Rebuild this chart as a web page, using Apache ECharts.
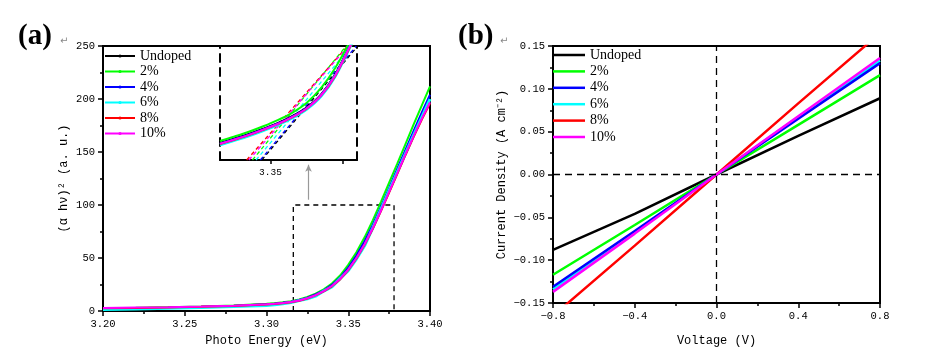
<!DOCTYPE html>
<html><head><meta charset="utf-8">
<script src="https://cdn.jsdelivr.net/npm/echarts@6/dist/echarts.min.js"></script>
<style>html,body{margin:0;padding:0;background:#fff}#c{width:932px;height:352px}</style>
</head><body><div id="c"></div>
<script>
// ---------- shared ----------
const NAMES = ['Undoped', '2%', '4%', '6%', '8%', '10%'];
const COLORS = ['#000000', '#00ff00', '#0000ff', '#00ffff', '#ff0000', '#ff00ff'];

// ---------- panel (a): Tauc plot ----------
const ENERGY = [3.20, 3.22, 3.24, 3.26, 3.28, 3.30, 3.305, 3.31, 3.315, 3.32, 3.325, 3.33, 3.335, 3.34, 3.345, 3.35, 3.355, 3.36, 3.365, 3.37, 3.375, 3.38, 3.385, 3.39, 3.395, 3.40];
const ABS_UNDOPED = [2.2, 2.7, 3.2, 3.9, 4.9, 6.4, 7.0, 7.8, 8.8, 10.2, 12.4, 15.4, 19.2, 24.2, 31.0, 40.2, 51.6, 65.0, 80.5, 97.5, 115.0, 133.0, 150.8, 168.5, 185.5, 202];
const ABS_2 = [2.5, 3.0, 3.6, 4.3, 5.3, 6.8, 7.4, 8.2, 9.3, 10.8, 13.2, 16.3, 20.5, 26.0, 33.5, 43.5, 55.5, 69.5, 85.5, 103.0, 121.0, 139.0, 157.5, 176.0, 194.0, 212];
const ABS_4 = [2.0, 2.5, 3.1, 3.8, 4.8, 6.3, 6.9, 7.7, 8.8, 10.3, 12.6, 15.6, 19.5, 24.6, 31.5, 40.8, 52.3, 65.8, 81.3, 98.3, 116.0, 134.0, 152.0, 170.0, 187.3, 204];
const ABS_6 = [1.5, 2.0, 2.5, 3.2, 4.2, 5.3, 5.8, 6.9, 8.0, 9.8, 11.5, 14.0, 18.8, 22.8, 30.5, 38.0, 49.0, 61.5, 78.5, 96.0, 113.5, 131.0, 148.5, 166.0, 183.0, 200];
const ABS_8 = [2.5, 2.9, 3.3, 3.9, 4.8, 6.1, 6.6, 7.3, 8.3, 9.7, 11.8, 14.7, 18.5, 23.3, 29.8, 38.6, 49.5, 62.5, 77.5, 94.3, 111.8, 129.5, 147.2, 164.3, 180.7, 196];
const ABS_10 = [2.8, 3.2, 3.6, 4.2, 5.0, 6.3, 6.8, 7.5, 8.5, 9.9, 12.0, 14.9, 18.7, 23.6, 30.2, 39.0, 50.0, 63.0, 78.0, 94.8, 112.3, 130.0, 147.8, 165.0, 181.5, 197];
const ABS_SERIES = [ABS_UNDOPED, ABS_2, ABS_4, ABS_6, ABS_8, ABS_10];

const BOX_E = [3.3164, 3.378];
const BOX_Y = [0, 100];
const ARROW_E = 3.3257;
const ARROW_Y = [105, 138];

// inset (zoom of the absorption edge)
const INSET_E = [3.343, 3.345, 3.347, 3.349, 3.351, 3.353, 3.355, 3.357, 3.359, 3.361, 3.363];
const IN_UNDOPED = [27.5, 29.4, 31.4, 33.7, 36.2, 39.2, 43.0, 48.7, 57.7, 70.2, 83.2];
const IN_2 = [28.3, 30.3, 32.4, 34.8, 37.5, 40.7, 45.0, 51.5, 60.5, 72.0, 85.0];
const IN_4 = [27.3, 29.2, 31.2, 33.5, 36.0, 39.0, 42.8, 48.5, 57.5, 70.0, 83.0];
const IN_6 = [26.7, 28.6, 30.6, 32.9, 35.4, 38.4, 42.2, 47.9, 56.9, 69.4, 82.4];
const IN_8 = [27.0, 28.9, 30.9, 33.2, 35.7, 38.7, 42.5, 48.2, 57.0, 69.4, 82.2];
const IN_10 = [27.1, 29.0, 31.0, 33.3, 35.8, 38.8, 42.6, 48.3, 57.2, 69.7, 82.6];
const IN_SERIES = [IN_UNDOPED, IN_2, IN_4, IN_6, IN_8, IN_10];
// linear fits: x at bottom (y=20) and at top (y=70)
const FIT_Y = [20, 70];
const FIT_X_START = [3.3488, 3.3475, 3.3486, 3.3480, 3.3467, 3.3470];
const FIT_X_END = [3.3621, 3.3605, 3.3619, 3.3612, 3.3607, 3.3608];

// ---------- panel (b): J-V ----------
const VOLT = [-0.8, -0.4, 0, 0.4, 0.8];
const J_UNDOPED = [-0.088, -0.046, 0, 0.045, 0.089];
const J_2 = [-0.117, -0.059, 0, 0.058, 0.116];
const J_4 = [-0.131, -0.066, 0, 0.065, 0.130];
const J_6 = [-0.134, -0.067, 0, 0.067, 0.133];
const J_8 = [-0.165, -0.083, 0, 0.083, 0.165];
const J_10 = [-0.137, -0.069, 0, 0.068, 0.136];
const J_SERIES = [J_UNDOPED, J_2, J_4, J_6, J_8, J_10];

const X_TICKS_A = {min: 3.20, max: 3.40, interval: 0.05};
const Y_TICKS_A = {min: 0, max: 250, interval: 50};
const X_TICKS_B = {min: -0.8, max: 0.8, interval: 0.4};
const Y_TICKS_B = {min: -0.15, max: 0.15, interval: 0.05};

// ---------- build ----------
const MONO = 'Liberation Mono';
const SERIF = 'Liberation Serif';
const minus = s => s.replace('-', '\u2212');

function valueAxis(extra) {
  return Object.assign({
    type: 'value',
    axisLine: {show: true, onZero: false, lineStyle: {color: '#000', width: 2}},
    axisTick: {show: true, inside: false, length: 5, lineStyle: {color: '#000', width: 1.5}},
    minorTick: {show: true, splitNumber: 2, length: 3, lineStyle: {color: '#000', width: 1.5}},
    splitLine: {show: false},
    axisLabel: {color: '#000', fontFamily: MONO, fontSize: 10.5, margin: 8},
    nameTextStyle: {color: '#000', fontFamily: MONO, fontSize: 12}
  }, extra);
}

const series = [];
// panel a main
NAMES.forEach((n, k) => {
  series.push({
    name: n, type: 'line', xAxisIndex: 0, yAxisIndex: 0,
    data: ENERGY.map((e, i) => [e, ABS_SERIES[k][i]]),
    smooth: false,
    symbol: 'circle', symbolSize: 3, showSymbol: false,
    itemStyle: {color: COLORS[k]},
    lineStyle: {color: COLORS[k], width: k === 3 ? 3 : 2},
    z: 3, animation: false
  });
});
// dashed box + arrow
series.push({
  name: 'box', type: 'line', xAxisIndex: 0, yAxisIndex: 0,
  data: [[BOX_E[0], BOX_Y[0]], [BOX_E[0], BOX_Y[1]], [BOX_E[1], BOX_Y[1]], [BOX_E[1], BOX_Y[0]]],
  symbol: 'none', lineStyle: {color: '#000', width: 1.3, type: [5, 4]}, z: 2, animation: false,
  markLine: {
    silent: true, symbol: ['none', 'arrow'], symbolSize: [5, 7],
    label: {show: false},
    lineStyle: {color: '#999', width: 1.2, type: 'solid'},
    data: [[{coord: [ARROW_E, ARROW_Y[0]]}, {coord: [ARROW_E, ARROW_Y[1]], symbol: 'arrow', itemStyle: {color: '#222'}}]]
  }
});
// inset curves
NAMES.forEach((n, k) => {
  series.push({
    name: 'in_' + n, type: 'line', xAxisIndex: 1, yAxisIndex: 1,
    data: INSET_E.map((e, i) => [e, IN_SERIES[k][i]]),
    smooth: 0.3, symbol: 'none',
    lineStyle: {color: COLORS[k], width: k === 3 ? 3 : 2},
    z: 4, animation: false
  });
});
NAMES.forEach((n, k) => {
  series.push({
    name: 'fit_' + n, type: 'line', xAxisIndex: 1, yAxisIndex: 1,
    data: [[FIT_X_START[k], FIT_Y[0]], [FIT_X_END[k], FIT_Y[1]]],
    symbol: 'none', lineStyle: {color: COLORS[k], width: 1.3, type: [4, 3]},
    z: 3, animation: false
  });
});
// panel b
const B_ORDER = [0, 1, 3, 2, 4, 5];
B_ORDER.forEach(k => {
  series.push({
    name: 'b:' + NAMES[k], type: 'line', xAxisIndex: 2, yAxisIndex: 3,
    data: VOLT.map((v, i) => [v, J_SERIES[k][i]]),
    symbol: 'none', lineStyle: {color: COLORS[k], width: 2.5}, itemStyle: {color: COLORS[k]},
    z: 3, animation: false
  });
});
series.push({
  name: 'zero', type: 'line', xAxisIndex: 2, yAxisIndex: 3, data: [], symbol: 'none',
  markLine: {
    silent: true, symbol: 'none', label: {show: false}, animation: false,
    lineStyle: {color: '#000', width: 1.3, type: [7, 5]},
    data: [{xAxis: 0}, {yAxis: 0}]
  }
});

const option = {
  backgroundColor: '#fff',
  animation: false,
  grid: [
    {left: 103, right: 502, top: 46, bottom: 41, show: true, borderColor: '#000', borderWidth: 2, backgroundColor: 'transparent'},
    {left: 220, top: 46, width: 137, height: 114, show: false},
    {left: 553, right: 52, top: 46, bottom: 41, show: true, borderColor: '#000', borderWidth: 2, backgroundColor: 'transparent'}
  ],
  xAxis: [
    valueAxis(Object.assign({gridIndex: 0, name: 'Photo Energy (eV)', nameLocation: 'middle', nameGap: 22,
      axisLabel: {color: '#000', fontFamily: MONO, fontSize: 10.5, margin: 8, formatter: v => v.toFixed(2)}}, X_TICKS_A)),
    {type: 'value', gridIndex: 1, min: 3.343, max: 3.362,
      axisLine: {show: true, onZero: false, lineStyle: {color: '#000', width: 2}},
      axisTick: {show: true, inside: false, length: 4, customValues: [3.35, 3.36], lineStyle: {color: '#000', width: 1.5}},
      axisLabel: {show: true, customValues: [3.35], color: '#000', fontFamily: MONO, fontSize: 9.5, margin: 7, formatter: v => v.toFixed(2)},
      splitLine: {show: false}},
    valueAxis(Object.assign({gridIndex: 2, name: 'Voltage (V)', nameLocation: 'middle', nameGap: 32,
      axisLabel: {color: '#000', fontFamily: MONO, fontSize: 10.5, margin: 8, formatter: v => minus(v.toFixed(1))}}, X_TICKS_B))
  ],
  yAxis: [
    valueAxis(Object.assign({gridIndex: 0, name: '(α hν)² (a. u.)', nameLocation: 'middle', nameGap: 33, nameRotate: 90,
      axisLabel: {color: '#000', fontFamily: MONO, fontSize: 10.5, margin: 8}}, Y_TICKS_A)),
    {type: 'value', gridIndex: 1, min: 20, max: 70, position: 'left',
      axisLine: {show: true, onZero: false, lineStyle: {color: '#000', width: 2, type: [8, 6]}},
      axisTick: {show: false}, axisLabel: {show: false}, splitLine: {show: false}},
    {type: 'value', gridIndex: 1, min: 20, max: 70, position: 'right',
      axisLine: {show: true, onZero: false, lineStyle: {color: '#000', width: 2, type: [8, 6]}},
      axisTick: {show: false}, axisLabel: {show: false}, splitLine: {show: false}},
    valueAxis(Object.assign({gridIndex: 2, name: 'Current Density (A cm⁻²)', nameLocation: 'middle', nameGap: 45, nameRotate: 90,
      axisLabel: {color: '#000', fontFamily: MONO, fontSize: 10.5, margin: 8, formatter: v => minus(v.toFixed(2))}}, Y_TICKS_B))
  ],
  legend: [
    {left: 104, top: 49, orient: 'vertical', padding: 0, itemWidth: 30, itemHeight: 4, itemGap: 1.5,
      textStyle: {fontFamily: SERIF, fontSize: 14, lineHeight: 14, color: '#000'},
      data: NAMES, selectedMode: false},
    {left: 553, top: 48, orient: 'vertical', padding: 0, itemWidth: 32, itemHeight: 2.5, itemGap: 2.4,
      icon: 'rect',
      textStyle: {fontFamily: SERIF, fontSize: 14, lineHeight: 14, color: '#000'},
      data: NAMES.map(n => 'b:' + n), formatter: n => n.slice(2), selectedMode: false}
  ],
  graphic: [
    {type: 'text', left: 18, top: 22, style: {text: '(a)', font: 'bold 29px "Liberation Serif"', fill: '#000'}},
    {type: 'text', left: 60, top: 36, style: {text: '↵', font: '10px "DejaVu Sans"', fill: '#888'}},
    {type: 'text', left: 458, top: 22, style: {text: '(b)', font: 'bold 29px "Liberation Serif"', fill: '#000'}},
    {type: 'text', left: 500, top: 36, style: {text: '↵', font: '10px "DejaVu Sans"', fill: '#888'}}
  ],
  series: series
};

const chart = echarts.init(document.getElementById('c'), null, {renderer: 'canvas'});
chart.setOption(option);
</script>
</body></html>
